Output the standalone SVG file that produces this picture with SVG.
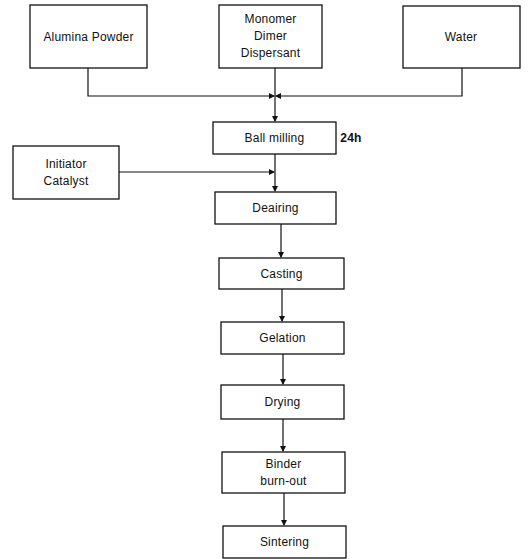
<svg xmlns="http://www.w3.org/2000/svg" width="531" height="559" viewBox="0 0 531 559">
<defs>
<marker id="ah" markerWidth="6" markerHeight="6" refX="5" refY="3" orient="auto" markerUnits="userSpaceOnUse">
<path d="M0,0 L6,3 L0,6 Z" fill="#111"/>
</marker>
</defs>
<style>
.box{fill:#fff;stroke:#111;stroke-width:1.3}
.t{font-family:"Liberation Sans",Arial,sans-serif;font-size:12px;fill:#111;text-anchor:middle;letter-spacing:0.2px}
.c{fill:none;stroke:#111;stroke-width:1.2}
</style>
<rect width="531" height="559" fill="#fff"/>
<g id="alumina"><rect class="box" x="30" y="5" width="117" height="63"/><text class="t" x="88.5" y="41">Alumina Powder</text></g>
<g id="monomer"><rect class="box" x="219" y="5" width="103" height="63"/><text class="t" x="270.5" y="23">Monomer</text><text class="t" x="270.5" y="40">Dimer</text><text class="t" x="270.5" y="57">Dispersant</text></g>
<g id="water"><rect class="box" x="403" y="6" width="117" height="62"/><text class="t" x="461" y="41">Water</text></g>
<g id="ballmilling"><rect class="box" x="213" y="122" width="123" height="32"/><text class="t" x="274.5" y="142">Ball milling</text><text class="t" x="351" y="142" style="font-weight:bold">24h</text></g>
<g id="initiator"><rect class="box" x="13" y="146" width="106" height="53"/><text class="t" x="66" y="168">Initiator</text><text class="t" x="66" y="185">Catalyst</text></g>
<g id="deairing"><rect class="box" x="215" y="192" width="121" height="32"/><text class="t" x="275.5" y="212">Deairing</text></g>
<g id="casting"><rect class="box" x="219" y="258" width="125" height="31"/><text class="t" x="281.5" y="278">Casting</text></g>
<g id="gelation"><rect class="box" x="221" y="322" width="123" height="32"/><text class="t" x="282.5" y="342">Gelation</text></g>
<g id="drying"><rect class="box" x="221" y="385" width="123" height="34"/><text class="t" x="282.5" y="406">Drying</text></g>
<g id="binder"><rect class="box" x="222" y="452" width="123" height="41"/><text class="t" x="283.5" y="468">Binder</text><text class="t" x="283.5" y="485">burn-out</text></g>
<g id="sintering"><rect class="box" x="223" y="526" width="123" height="32"/><text class="t" x="284.5" y="546">Sintering</text></g>
<g id="connectors">
<path class="c" d="M88,68 V96 H274" marker-end="url(#ah)"/>
<path class="c" d="M462,68 V96 H276" marker-end="url(#ah)"/>
<path class="c" d="M275,68 V121" marker-end="url(#ah)"/>
<path class="c" d="M119,172 H274" marker-end="url(#ah)"/>
<path class="c" d="M275,154 V191" marker-end="url(#ah)"/>
<path class="c" d="M281,224 V257" marker-end="url(#ah)"/>
<path class="c" d="M282,289 V321" marker-end="url(#ah)"/>
<path class="c" d="M283,354 V384" marker-end="url(#ah)"/>
<path class="c" d="M283,419 V451" marker-end="url(#ah)"/>
<path class="c" d="M284,493 V525" marker-end="url(#ah)"/>
</g>
</svg>
